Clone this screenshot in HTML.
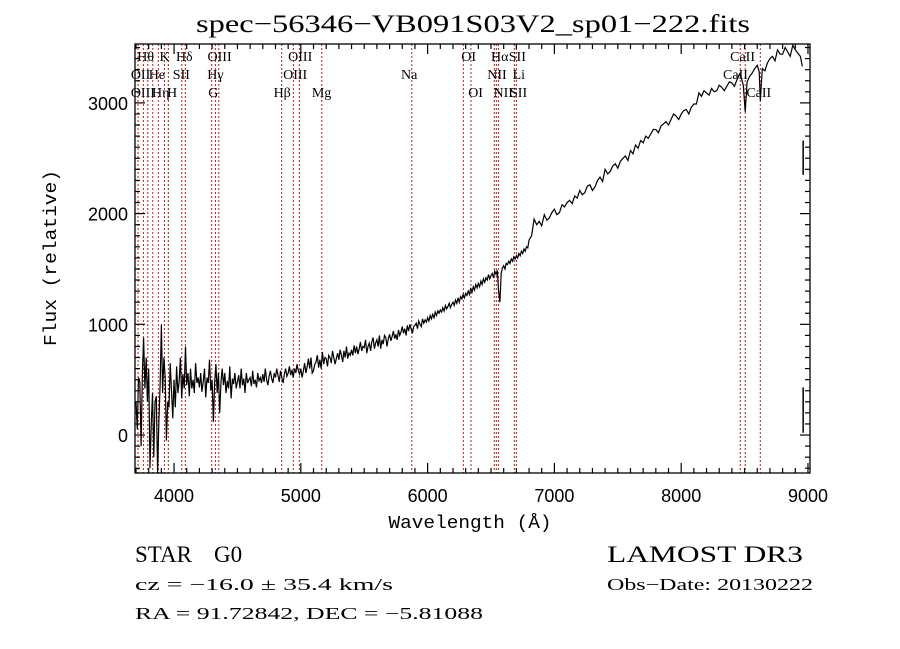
<!DOCTYPE html>
<html><head><meta charset="utf-8"><style>
html,body{margin:0;padding:0;background:#fff;}
svg{display:block;}
</style></head><body>
<svg id="chart" width="900" height="649" xmlns="http://www.w3.org/2000/svg">
<rect x="0" y="0" width="900" height="649" fill="#fff"/>
<text x="473" y="32" text-anchor="middle" font-family="Liberation Serif, serif" font-size="25" textLength="554" lengthAdjust="spacingAndGlyphs">spec−56346−VB091S03V2_sp01−222.fits</text>
<g id="lines"></g>
<g id="labels" font-family="Liberation Serif, serif" font-size="14"></g>
<g id="series"></g>
<g id="axes"></g>
<text x="470" y="528" text-anchor="middle" font-family="Liberation Mono, monospace" font-size="18" textLength="163" lengthAdjust="spacingAndGlyphs">Wavelength (Å)</text>
<text transform="translate(56,258) rotate(-90)" text-anchor="middle" font-family="Liberation Mono, monospace" font-size="18" textLength="176" lengthAdjust="spacingAndGlyphs">Flux (relative)</text>
<text x="135" y="562" font-family="Liberation Serif, serif" font-size="23">STAR</text>
<text x="214" y="562" font-family="Liberation Serif, serif" font-size="23">G0</text>
<text x="607" y="562" font-family="Liberation Serif, serif" font-size="23" textLength="196" lengthAdjust="spacingAndGlyphs">LAMOST DR3</text>
<text x="135" y="590" font-family="Liberation Serif, serif" font-size="17" textLength="258" lengthAdjust="spacingAndGlyphs">cz = −16.0 ± 35.4 km/s</text>
<text x="607" y="590" font-family="Liberation Serif, serif" font-size="17" textLength="206" lengthAdjust="spacingAndGlyphs">Obs−Date: 20130222</text>
<text x="135" y="619" font-family="Liberation Serif, serif" font-size="17" textLength="348" lengthAdjust="spacingAndGlyphs">RA =  91.72842, DEC =  −5.81088</text>
</svg>
<script>
// ---- data ----
const blueStart = 3700, blueStep = 10;
const blueFlux = [300,50,520,480,-100,560,880,420,700,300,
 600,-300,80,380,-200,300,350,-350,100,450,
 1000,380,700,520,-50,300,250,650,400,150,
 500,250,620,380,480,700,330,550,420,800,
 450,560,350,600,420,500,380,650,470,520,
 430,560,390,480,600,340,520,470,680,400,
 500,120,470,640,380,560,200,480,600,450,
 560,380,490,420,620,330,510,460,560,420,
 480,540,420,600,450,510,380,560,470,500,
 520,440,580,460,500,430,560,490,520,470,
 550,480,600,500,450,530,580,510,470,560,
 520,600,540,480,580,520,470,550,600,530,
 560,620,540,590,520,600,560,640,580,550];
const midStart = 5000, midStep = 10;
const midFlux = [600,520,580,650,560,620,690,600,700,560,
 580,640,660,720,610,680,600,750,640,700,
 690,620,720,700,650,760,700,640,690,740,
 680,770,720,660,760,700,800,690,740,720,
 770,720,810,740,800,730,780,840,760,800,
 790,860,740,800,830,760,840,880,780,830,
 860,800,900,780,860,820,900,880,800,870,
 910,850,890,940,870,910,860,950,900,930,
 980,920,960,900,990,940,1000,960,920,980,
 990,1010,960,1030,1000,980,1050,1010,1040,1020,
 1060,1030,1080,1050,1090,1060,1110,1080,1120,1100,
 1130,1110,1150,1120,1170,1140,1160,1190,1150,1180,
 1200,1170,1220,1190,1240,1200,1250,1230,1270,1240,
 1280,1260,1300,1270,1330,1290,1340,1310,1360,1330,
 1370,1340,1390,1360,1410,1380,1420,1400,1450,1410,
 1440,1460,1420,1480,1450,1490,1300,1200,1460,1510,
 1530,1500,1550,1540,1570,1550,1590,1570,1610,1590,
 1620,1600,1640,1620,1660,1640,1680,1660,1700,1690];
const redWave = [6800,6820,6840,6860,6880,6900,6920,6940,6960,6980,7000,7020,7040,7060,7080,7100,7120,7140,7160,7180,7200,7220,7240,7260,7280,7300,7320,7340,7360,7380,7400,7420,7440,7460,7480,7500,7520,7540,7560,7580,7600,7620,7640,7660,7680,7700,7720,7740,7760,7780,7800,7820,7840,7860,7880,7900,7920,7940,7960,7980,8000,8020,8040,8060,8080,8100,8120,8140,8160,8180,8200,8220,8240,8260,8280,8300,8320,8340,8360,8380,8400,8420,8440,8460,8470,8490,8505,8520,8540,8560,8580,8600,8615,8624,8640,8660,8680,8700,8720,8740,8760,8780,8800,8820,8840,8860,8880,8900,8920,8940,8955];
const redFlux = [1760,1800,1950,1900,1930,1890,1990,1940,1960,2010,2040,1990,2010,2080,2060,2100,2120,2090,2160,2140,2210,2170,2190,2250,2260,2210,2240,2300,2330,2290,2400,2360,2380,2430,2450,2410,2470,2500,2520,2480,2570,2540,2620,2590,2660,2640,2700,2680,2720,2760,2760,2730,2790,2810,2830,2800,2850,2900,2880,2850,2900,2930,2940,2900,2960,2990,2990,3090,3060,3110,3090,3070,3130,3100,3110,3160,3140,3110,3150,3190,3180,3150,3210,3260,3240,3160,2920,3190,3240,3270,3310,3340,3280,3020,3310,3290,3360,3400,3420,3380,3480,3440,3440,3500,3460,3420,3520,3480,3450,3420,3330];
const tailWave = [8962,8962,8962,8962];
const tailFlux = [2660,2350,430,20];
const lineWaves = [3716,3758,3793,3832,3876,3924,3955,4061,4089,4297,4326,4353,4849,4941,4988,5165,5875,6282,6342,6526,6542,6558,6684,6700,8466,8505,8624];
const lineLabels = ["Hθ","K","Hδ","OIII","OIII","OI","OII","He","SII","Hγ","OIII","Na","OIII","Hη","H","G","Hβ","Mg","OI","Hα","SII","NII","Li","NII","SII","CaII","CaII","CaII"];
const labelWaves = [3710,3885,4015,4264,4900,6265,3659,3800,3990,4262,4860,5790,3659,3826,3944,4270,4785,5087,6320,6500,6640,6470,6670,6520,6650,8386,8330,8514];
const labelRows = [0,0,0,0,0,0,1,1,1,1,1,1,2,2,2,2,2,2,2,0,0,1,1,2,2,0,1,2];
const xTicks = [4000,5000,6000,7000,8000,9000];
const yTicks = [0,1000,2000,3000];

// ---- scales ----
const X0=135,X1=810,Y0=44,Y1=473;
const W0=3692,W1=9016,F0=-343,F1=3532;
const xs = w => X0 + (w-W0)/(W1-W0)*(X1-X0);
const ys = f => Y1 - (f-F0)/(F1-F0)*(Y1-Y0);
const NS="http://www.w3.org/2000/svg";
function mk(tag, attrs, parent){const e=document.createElementNS(NS,tag);for(const k in attrs)e.setAttribute(k,attrs[k]);parent.appendChild(e);return e;}

const gl=document.getElementById('lines');
lineWaves.forEach(w=>{
  const l=mk('line',{x1:xs(w),x2:xs(w),y1:Y0,y2:Y1,stroke:'#b02020','stroke-width':1,'stroke-dasharray':'2,2'},gl);
  
  
});
const glab=document.getElementById('labels');
const rowY=[61,79,97];
lineLabels.forEach((t,i)=>{
  const e=mk('text',{x:xs(labelWaves[i]),y:rowY[labelRows[i]]},glab);
  e.textContent=t;
  
  
});

let pts=[];
blueFlux.forEach((f,i)=>pts.push([blueStart+i*blueStep,f]));
midFlux.forEach((f,i)=>pts.push([midStart+i*midStep,f]));
redWave.forEach((w,i)=>pts.push([w,redFlux[i]]));
const clip=v=>Math.max(Y0,Math.min(Y1,v));
const gs=document.getElementById('series');
const p=mk('polyline',{points:pts.map(q=>xs(q[0]).toFixed(1)+','+clip(ys(q[1])).toFixed(1)).join(' '),fill:'none',stroke:'#000','stroke-width':1.2},gs);


for(let i=0;i<tailWave.length;i+=2){
  const s=mk('line',{x1:xs(tailWave[i]),x2:xs(tailWave[i+1]),y1:ys(tailFlux[i]),y2:ys(tailFlux[i+1]),stroke:'#000','stroke-width':1.5},gs);
  
  
}

const ga=document.getElementById('axes');
const fr=mk('rect',{x:X0,y:Y0,width:X1-X0,height:Y1-Y0,fill:'none',stroke:'#000','stroke-width':1.3},ga);


for(let w=3700;w<=9000;w+=100){
  const major=w%1000===0, L=major?10:5, x=xs(w);
  mk('line',{x1:x,x2:x,y1:Y1,y2:Y1-L,stroke:'#000','stroke-width':1.2},ga);
  mk('line',{x1:x,x2:x,y1:Y0,y2:Y0+L,stroke:'#000','stroke-width':1.2},ga);
}
for(let f=-300;f<=3500;f+=100){
  const major=f%1000===0, L=major?10:5, y=ys(f);
  mk('line',{x1:X0,x2:X0+L,y1:y,y2:y,stroke:'#000','stroke-width':1.2},ga);
  mk('line',{x1:X1,x2:X1-L,y1:y,y2:y,stroke:'#000','stroke-width':1.2},ga);
}
xTicks.forEach(w=>{
  const t=mk('text',{x:xs(w),y:502,'text-anchor':'middle','font-family':'Liberation Sans, sans-serif','font-size':18},ga);
  t.textContent=w;
  
  
});
yTicks.forEach(f=>{
  const t=mk('text',{x:128,y:ys(f)+7,'text-anchor':'end','font-family':'Liberation Sans, sans-serif','font-size':18},ga);
  t.textContent=f;
  
  
});
</script>
</body></html>
